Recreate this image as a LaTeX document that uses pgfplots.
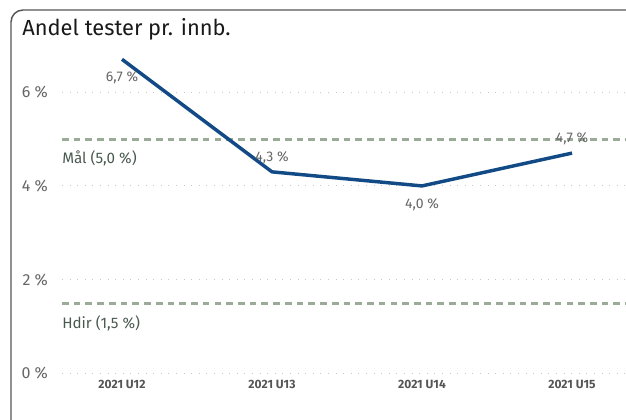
\documentclass[border=0pt]{standalone}
\usepackage{pgfplots}
\pgfplotsset{compat=1.18}
\usepackage{fontspec}
\setmainfont{Fira Sans}
\definecolor{lineblue}{HTML}{124A86}
\definecolor{refgreen}{HTML}{9AAB98}
\definecolor{ticktxt}{HTML}{666666}
\definecolor{reftxt}{HTML}{4A5A50}
\definecolor{xtxt}{HTML}{555555}
\definecolor{frame}{HTML}{555555}
\begin{document}
\begin{tikzpicture}[x=0.75pt,y=0.75pt]
\useasboundingbox (0,0) rectangle (626,419);
\begin{scope}
\clip (0,0) rectangle (626,419);
\draw[frame, line width=1.1pt, rounded corners=9pt] (11,-30) rectangle (660,409);
\end{scope}
\node[anchor=base west, inner sep=0pt, font=\fontsize{16.4}{18}\selectfont, text=black!90] at (22,383) {Andel tester pr. innb.};
\begin{axis}[
  at={(46.5pt,34.125pt)}, anchor=south west,
  scale only axis, width=423pt, height=246.2pt,
  xmin=-0.4, xmax=3.36, ymin=0, ymax=7,
  clip=false,
  axis line style={draw=none},
  major tick length=0pt,
  xtick={0,1,2,3},
  xticklabels={2021 U12,2021 U13,2021 U14,2021 U15},
  xticklabel style={font=\bfseries\fontsize{9}{10}\selectfont, text=xtxt, yshift=-1.5pt},
  ytick={0,2,4,6},
  yticklabels={0 \%,2 \%,4 \%,6 \%},
  yticklabel style={font=\fontsize{12}{14}\selectfont, text=ticktxt, xshift=-7pt},
  ymajorgrids,
  grid style={gray!45, line width=0.7pt, dash pattern=on 0.7pt off 5pt},
]
\addplot[refgreen, line width=2.3pt, dash pattern=on 5pt off 3.8pt] coordinates {(-0.4,5) (3.36,5)};
\addplot[refgreen, line width=2.3pt, dash pattern=on 5pt off 3.8pt] coordinates {(-0.4,1.5) (3.36,1.5)};
\node[anchor=west, inner sep=0pt, font=\fontsize{11.4}{13}\selectfont, text=reftxt] at (axis cs:-0.4,4.59) {Mål (5,0 \%)};
\node[anchor=west, inner sep=0pt, font=\fontsize{11.4}{13}\selectfont, text=reftxt] at (axis cs:-0.4,1.08) {Hdir (1,5 \%)};
\addplot[lineblue, line width=2.6pt, line join=round] coordinates {(0,6.7) (1,4.3) (2,4.0) (3,4.7)};
\addplot[draw=none, mark=none, nodes near coords, point meta=explicit symbolic,
  nodes near coords style={anchor=north, inner sep=0pt, yshift=-9pt, font=\fontsize{10.5}{12}\selectfont, text=ticktxt}]
  table[meta=lab] {
x y lab
0 6.7 {6,7 \%}
2 4.0 {4,0 \%}
};
\addplot[draw=none, mark=none, nodes near coords, point meta=explicit symbolic,
  nodes near coords style={anchor=south, inner sep=0pt, yshift=6pt, font=\fontsize{10.5}{12}\selectfont, text=ticktxt}]
  table[meta=lab] {
x y lab
1 4.3 {4,3 \%}
3 4.7 {4,7 \%}
};
\end{axis}
\end{tikzpicture}
\end{document}
